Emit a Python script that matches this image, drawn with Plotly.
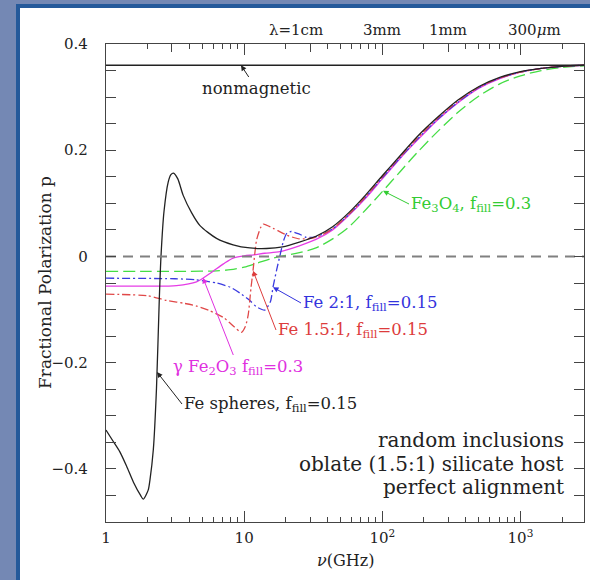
import numpy as np
import plotly.graph_objects as go

# ---------------- data (nu in GHz, p fractional polarization) -------------
nu_sph = [1.0, 1.12, 1.26, 1.41, 1.58, 1.78, 1.86, 2.02, 2.08, 2.2, 2.32, 2.43, 2.5, 2.63, 2.82,
          2.95, 3.08, 3.31, 3.62, 4.17, 4.79, 6.31, 8.32, 11.0, 14.5, 19.0, 25.1, 33.1, 43.7, 57.5,
          75.9, 100, 135, 178, 251, 355, 501, 708, 1000, 1413, 1995, 2884]
p_sph = [-0.327, -0.347, -0.368, -0.395, -0.425, -0.450, -0.457, -0.440, -0.421, -0.364, -0.248,
         -0.082, 0.0, 0.085, 0.140, 0.154, 0.157, 0.146, 0.115, 0.082, 0.058, 0.034, 0.022, 0.016,
         0.015, 0.018, 0.027, 0.038, 0.056, 0.083, 0.116, 0.152, 0.190, 0.225, 0.262, 0.295,
         0.320, 0.337, 0.348, 0.354, 0.358, 0.360]

nu_fe3o4 = [1.0, 2.0, 4.0, 6.31, 7.94, 10.0, 12.6, 15.8, 19.1, 25.1, 33.1, 43.7, 57.5, 75.9,
            100, 135, 178, 251, 355, 501, 708, 1000, 1413, 1995, 2884]
p_fe3o4 = [-0.028, -0.028, -0.028, -0.027, -0.025, -0.020, -0.012, -0.004, 0.001, 0.007, 0.016,
           0.033, 0.056, 0.088, 0.122, 0.160, 0.195, 0.235, 0.272, 0.302, 0.325, 0.340, 0.350,
           0.356, 0.359]

nu_fe2o3 = [1.0, 2.0, 3.24, 4.52, 5.65, 7.08, 8.32, 10.0, 11.7, 14.1, 18.2, 25.1, 33.1, 43.7,
            57.5, 75.9, 100, 135, 178, 251, 355, 501, 708, 1000, 1413, 1995, 2884]
p_fe2o3 = [-0.056, -0.056, -0.055, -0.048, -0.032, -0.014, -0.003, 0.001, 0.003, 0.006, 0.009,
           0.020, 0.032, 0.050, 0.078, 0.110, 0.146, 0.185, 0.218, 0.257, 0.290, 0.317, 0.335,
           0.347, 0.354, 0.358, 0.360]

nu_fe21 = [1.0, 3.16, 4.47, 6.31, 7.94, 9.33, 11.0, 12.3, 14.1, 15.5, 16.2, 17.2, 18.1, 19.3,
           20.4, 21.9, 25.1, 28.2, 33.1, 43.7, 57.5, 75.9, 100, 135, 178, 251, 355, 501, 708,
           1000, 1413, 1995, 2884]
p_fe21 = [-0.041, -0.042, -0.044, -0.050, -0.058, -0.069, -0.083, -0.095, -0.101, -0.085,
          -0.057, -0.025, 0.0, 0.030, 0.044, 0.047, 0.042, 0.036, 0.037, 0.052, 0.079, 0.112,
          0.148, 0.186, 0.220, 0.258, 0.291, 0.318, 0.336, 0.347, 0.354, 0.358, 0.360]

nu_fe15 = [1.0, 2.0, 2.75, 3.63, 4.47, 5.62, 7.08, 8.51, 9.55, 10.2, 10.7, 11.2, 11.6, 12.3,
           13.2, 13.8, 16.2, 20.4, 25.1, 33.1, 43.7, 57.5, 75.9, 100, 135, 178, 251, 355, 501,
           708, 1000, 1413, 1995, 2884]
p_fe15 = [-0.071, -0.074, -0.083, -0.088, -0.093, -0.102, -0.115, -0.133, -0.143, -0.132,
          -0.110, -0.060, -0.026, 0.031, 0.055, 0.061, 0.053, 0.040, 0.033, 0.036, 0.052, 0.080,
          0.113, 0.150, 0.188, 0.222, 0.260, 0.293, 0.319, 0.336, 0.347, 0.354, 0.358, 0.360]

nu_flat = [1.0, 2884]
p_nonmag = [0.36, 0.36]
p_zero = [0.0, 0.0]

x_tickvals = [1, 10, 100, 1000]
x_ticktext = ["1", "10", "10<sup>2</sup>", "10<sup>3</sup>"]
y_tickvals = [-0.4, -0.2, 0, 0.2, 0.4]
y_ticktext = ["\u22120.4", "\u22120.2", "0", "0.2", "0.4"]
lam_nu = [30, 100, 300, 1000]
lam_text = ["\u03bb=1cm", "3mm", "1mm", "300<i>\u03bc</i>m"]
lam_shift = [-14, 0, 0, 14]
note_lines = ["random inclusions", "oblate (1.5:1) silicate host", "perfect alignment"]

# ---------------- layout geometry ----------------
FONT = "DejaVu Serif"
W, H = 590, 580
L, R, T, B = 106, 6, 44, 58
PW, PH = W - L - R, H - T - B
XR = [0.0, float(np.log10(2884))]
YR = [-0.5, 0.4]


def px2data(px, py):
    return (XR[0] + (px - L) / PW * (XR[1] - XR[0]),
            YR[1] - (py - T) / PH * (YR[1] - YR[0]))


def px2paper(px, py):
    return (px - L) / PW, (H - B - py) / PH


def on_curve(nu, p, px):
    lx = px2data(px, 0)[0]
    return lx, float(np.interp(lx, np.log10(nu), p))


fig = go.Figure()

fig.add_trace(go.Scatter(x=nu_flat, y=p_zero, mode="lines", xaxis="x2",
                         line=dict(color="#808080", width=2, dash="10px,7px"),
                         hoverinfo="skip"))
fig.add_trace(go.Scatter(x=nu_fe3o4, y=p_fe3o4, mode="lines",
                         line=dict(color="#44dd44", width=1.3, dash="12px,5px", shape="spline", smoothing=0.8)))
fig.add_trace(go.Scatter(x=nu_fe2o3, y=p_fe2o3, mode="lines",
                         line=dict(color="#e63ce6", width=1.3, shape="spline", smoothing=0.8)))
fig.add_trace(go.Scatter(x=nu_fe21, y=p_fe21, mode="lines",
                         line=dict(color="#3a3ae0", width=1.3, dash="8px,3px,2px,3px", shape="spline", smoothing=0.6)))
fig.add_trace(go.Scatter(x=nu_fe15, y=p_fe15, mode="lines",
                         line=dict(color="#e04848", width=1.3, dash="8px,3px,2px,3px", shape="spline", smoothing=0.6)))
fig.add_trace(go.Scatter(x=nu_sph, y=p_sph, mode="lines",
                         line=dict(color="#222222", width=1.3, shape="spline", smoothing=0.7)))
fig.add_trace(go.Scatter(x=nu_flat, y=p_nonmag, mode="lines",
                         line=dict(color="#222222", width=1.3)))

ann = []
# labelled arrows: (text, colour, curve, tip px, text anchor px, xanchor)
labels = [
    ("nonmagnetic", "#222222", (nu_flat, p_nonmag), 241, (256, 88), "center"),
    ("Fe<sub>3</sub>O<sub>4</sub>, f<sub>fill</sub>=0.3", "#33cc33", (nu_fe3o4, p_fe3o4), 383, (409, 204), "left"),
    ("Fe 2:1, f<sub>fill</sub>=0.15", "#3333dd", (nu_fe21, p_fe21), 273, (301, 303), "left"),
    ("Fe 1.5:1, f<sub>fill</sub>=0.15", "#dd3c3c", (nu_fe15, p_fe15), 253, (276, 330), "left"),
    ("\u03b3 Fe<sub>2</sub>O<sub>3</sub> f<sub>fill</sub>=0.3", "#e030e0", (nu_fe2o3, p_fe2o3), 203, (238, 367), "center"),
    ("Fe spheres, f<sub>fill</sub>=0.15", "#222222", (nu_sph, p_sph), 157, (182, 404), "left"),
]
for text, col, (cx, cy), tipx, (tx, ty), xa in labels:
    lx, ly = on_curve(cx, cy, tipx)
    ax, ay = px2data(tx, ty)
    ann.append(dict(x=lx, y=ly, xref="x", yref="y", ax=ax, ay=ay, axref="x", ayref="y",
                    text=text, showarrow=True, arrowhead=2, arrowsize=1.1, arrowwidth=1,
                    arrowcolor=col, xanchor=xa, yanchor="middle",
                    font=dict(family=FONT, size=16.5, color=col)))

for i, line in enumerate(note_lines):
    px_, py_ = px2paper(566, 440 + 23.5 * i)
    ann.append(dict(x=px_, y=py_, xref="paper", yref="paper", text=line, showarrow=False,
                    xanchor="right", yanchor="middle",
                    font=dict(family=FONT, size=20, color="#222222")))

for v, t, s in zip(lam_nu, lam_text, lam_shift):
    ann.append(dict(x=np.log10(v), y=px2paper(0, 30)[1], xref="x", yref="paper", text=t,
                    showarrow=False, xanchor="center", yanchor="middle", xshift=s,
                    font=dict(family=FONT, size=15, color="#222222")))

xt, yt = px2paper(45, 283)
ann.append(dict(x=xt, y=yt, xref="paper", yref="paper", text="Fractional Polarization p",
                textangle=-90, showarrow=False, xanchor="center", yanchor="middle",
                font=dict(family=FONT, size=17, color="#222222")))
xt, yt = px2paper(345, 560)
ann.append(dict(x=xt, y=yt, xref="paper", yref="paper", text="<i>\u03bd</i>(GHz)",
                showarrow=False, xanchor="center", yanchor="middle",
                font=dict(family=FONT, size=16, color="#222222")))

# slide panel
x0, y1 = px2paper(18, 6)
x1, y0 = px2paper(600, 600)
shapes = [dict(type="rect", xref="paper", yref="paper", x0=x0, x1=x1, y0=y0, y1=y1,
               fillcolor="white", line=dict(color="#24599a", width=4), layer="below")]

axis_common = dict(type="log", range=XR, showgrid=False, zeroline=False)
fig.update_layout(
    width=W, height=H, margin=dict(l=L, r=R, t=T, b=B, autoexpand=False),
    paper_bgcolor="#7488b4", plot_bgcolor="white", showlegend=False,
    font=dict(family=FONT, size=15, color="#222222"),
    xaxis=dict(**axis_common, showline=True, linecolor="#444444", linewidth=1.3, mirror="allticks",
               ticks="inside", ticklen=11, tickwidth=1, tickcolor="#444444",
               tickmode="array", tickvals=x_tickvals, ticktext=x_ticktext, ticklabelstandoff=2,
               tickfont=dict(family=FONT, size=15, color="#222222"),
               minor=dict(ticks="inside", ticklen=5, tickwidth=1, tickcolor="#444444",
                          tickmode="array",
                          tickvals=[m * d for d in (1, 10, 100, 1000) for m in range(2, 10)])),
    xaxis2=dict(**axis_common, overlaying="x", side="top", anchor="y", showline=False,
                ticks="inside", ticklen=8, tickwidth=1, tickcolor="#444444",
                tickmode="array", tickvals=[3, 30, 300], showticklabels=False),
    yaxis=dict(range=YR, showgrid=False, zeroline=False, showline=True, linecolor="#444444",
               linewidth=1.3, mirror="allticks", ticks="inside", ticklen=10, tickwidth=1,
               tickcolor="#444444", tickmode="array", tickvals=y_tickvals, ticktext=y_ticktext,
               ticklabelstandoff=14, tickfont=dict(family=FONT, size=15, color="#222222"),
               minor=dict(ticks="inside", ticklen=5, tickwidth=1, tickcolor="#444444",
                          dtick=0.05, tick0=0)),
    annotations=ann, shapes=shapes,
)

fig.write_html("out.html")
